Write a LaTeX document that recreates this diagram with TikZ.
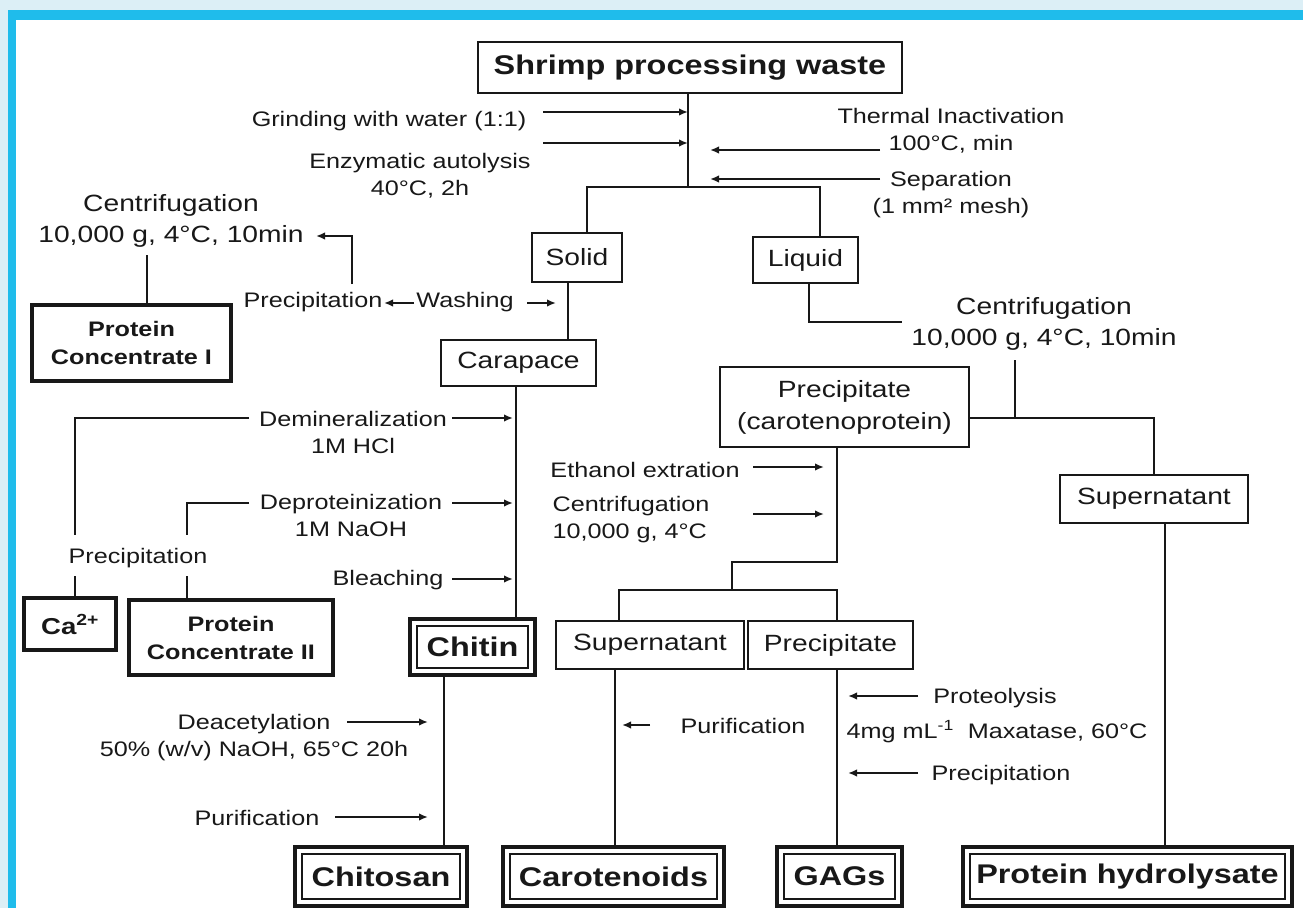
\documentclass[tikz,border=0pt]{standalone}
\usepackage{fontspec}
\setmainfont[FakeStretch=1.2]{Liberation Sans}
\usetikzlibrary{arrows.meta}
\definecolor{ink}{HTML}{181818}
\definecolor{bgl}{HTML}{DCEFF6}
\definecolor{fblue}{HTML}{1FBCEB}
\newcommand\lblf{\fontsize{21}{27}\selectfont}
\newcommand\cff{\fontsize{23.5}{31}\selectfont}
\newcommand\boxf{\fontsize{23.5}{32}\selectfont}
\newcommand\bigf{\fontsize{27}{32}\selectfont\bfseries}
\newcommand\pcf{\fontsize{21}{28}\selectfont\bfseries}
\begin{document}
\begin{tikzpicture}[x=1pt,y=-1pt,
 box/.style={draw=ink, line width=2.7pt, fill=white, inner sep=0pt, text=ink, font=\boxf, align=center},
 tbox/.style={box, line width=4.6pt, font=\pcf},
 dbox/.style={box, line width=4.2pt, font=\bigf, path picture={\draw[ink, line width=1.8pt] ([shift={(7pt,-7pt)}]path picture bounding box.north west) rectangle ([shift={(-7pt,7pt)}]path picture bounding box.south east);}},
 lab/.style={inner sep=0pt, text=ink, font=\lblf, align=center, anchor=base},
 conn/.style={draw=ink, line width=2.3pt},
 arr/.style={conn, -{Latex[length=9pt,width=7.5pt]}}
]
\useasboundingbox (0,0) rectangle (1303,908);
\fill[bgl] (0,0) rectangle (1303,908);
\fill[fblue] (8,10) rectangle (1303,908);
\fill[white] (16,20) rectangle (1303,908);

% boxes
\node[box, font=\bigf, line width=2.8pt, minimum width=424pt, minimum height=51pt] (shrimp) at (690,67.5) {Shrimp processing waste};
\node[box, minimum width=90pt, minimum height=49pt] (solid) at (577,257.5) {Solid};
\node[box, minimum width=105pt, minimum height=46pt] (liquid) at (805.5,260) {Liquid};
\node[tbox, minimum width=199pt, minimum height=76pt] (pc1) at (131.5,343) {Protein\\Concentrate I};
\node[box, minimum width=155pt, minimum height=46pt] (carapace) at (518.5,363) {Carapace};
\node[box, minimum width=249pt, minimum height=80pt] (prec) at (844.5,407) {Precipitate\\(carotenoprotein)};
\node[box, minimum width=188pt, minimum height=48pt] (supR) at (1154,499) {Supernatant};
\node[tbox, font=\fontsize{23}{28}\selectfont\bfseries, minimum width=92pt, minimum height=52pt] (ca) at (70,624) {Ca\textsuperscript{2+}};
\node[tbox, minimum width=204pt, minimum height=75pt] (pc2) at (231,637.5) {Protein\\Concentrate II};
\node[dbox, minimum width=125pt, minimum height=56pt] (chitin) at (472.5,647) {Chitin};
\node[box, minimum width=188pt, minimum height=48pt] (supM) at (650,645) {Supernatant};
\node[box, minimum width=165pt, minimum height=48pt] (precM) at (830.5,645) {Precipitate};
\node[dbox, minimum width=172pt, minimum height=59pt] (chitosan) at (381,876.5) {Chitosan};
\node[dbox, minimum width=221pt, minimum height=59pt] (carot) at (613.5,876.5) {Carotenoids};
\node[dbox, minimum width=125pt, minimum height=59pt] (gags) at (839.5,876.5) {GAGs};
\node[dbox, minimum width=329pt, minimum height=59pt] (hydro) at (1127.5,876.5) {Protein hydrolysate};

% labels (anchor=base: baseline of the last line)
\node[lab] (grind) at (389,126) {Grinding with water (1:1)};
\node[lab] (enz) at (420,195) {Enzymatic autolysis\\40°C, 2h};
\node[lab] (therm) at (951,150) {Thermal Inactivation\\100°C, min};
\node[lab] (sep) at (951,213) {Separation\\(1 mm² mesh)};
\node[lab, font=\cff] (cfR) at (1044,345) {Centrifugation\\10,000 g, 4°C, 10min};
\node[lab, font=\cff] (cfL) at (171,242) {Centrifugation\\10,000 g, 4°C, 10min};
\node[lab] (precL) at (313,307) {Precipitation};
\node[lab] (wash) at (465,307) {Washing};
\node[lab] (dem) at (353,453) {Demineralization\\1M HCl};
\node[lab] (dep) at (351,536) {Deproteinization\\1M NaOH};
\node[lab] (bleach) at (388,585) {Bleaching};
\node[lab] (precLL) at (138,563) {Precipitation};
\node[lab] (deac) at (254,756) {Deacetylation\\50\% (w/v) NaOH, 65°C 20h};
\node[lab] (purL) at (257,825) {Purification};
\node[lab] (eth) at (645,477) {Ethanol extration};
\node[lab, align=left] (cfM) at (631,538) {Centrifugation\\10,000 g, 4°C};
\node[lab] (purM) at (743,733) {Purification};
\node[lab] (proteo) at (995,703) {Proteolysis};
\node[lab] (maxa) at (997,738) {4mg mL\textsuperscript{-1}\ \ Maxatase, 60°C};
\node[lab] (precR) at (1001,780) {Precipitation};

% junction coordinates
\coordinate (j1) at (688,187);
\coordinate (jA) at (587,187);
\coordinate (jB) at (820,187);
\coordinate (a1s) at (543,112);
\coordinate (a2s) at (543,143);
\coordinate (a3s) at (880,150);
\coordinate (a3e) at (710,150);
\coordinate (a4s) at (880,179);
\coordinate (a4e) at (710,179);
\coordinate (lq) at (809,322);
\coordinate (lqe) at (902,322);
\coordinate (cq) at (1015,360);
\coordinate (jc) at (1015,418);
\coordinate (xhy) at (1165,0);
\coordinate (p1) at (837,562);
\coordinate (p2) at (732,562);
\coordinate (p3) at (732,590);
\coordinate (sL) at (619,590);
\coordinate (sR) at (837,590);
\coordinate (xc) at (615,0);
\coordinate (xs) at (568,0);
\coordinate (xk) at (516,0);
\coordinate (xt) at (444,0);
\coordinate (cl) at (147,255);
\coordinate (pu1) at (352,284);
\coordinate (pu2) at (352,236);
\coordinate (pu3) at (316,236);
\coordinate (d1) at (249,418);
\coordinate (d2) at (75,418);
\coordinate (d3) at (75,535);
\coordinate (d4) at (75,576);
\coordinate (e1) at (249,503);
\coordinate (e2) at (187,503);
\coordinate (e3) at (187,535);
\coordinate (e4) at (187,576);

% main connectors
\draw[conn] (shrimp.south -| j1) -- (j1);
\draw[conn] (solid.north -| jA) -- (jA) -- (jB) -- (liquid.north -| jB);
\draw[arr] (a1s) -- (a1s -| j1);
\draw[arr] (a2s) -- (a2s -| j1);
\draw[arr] (a3s) -- (a3e);
\draw[arr] (a4s) -- (a4e);
\draw[conn] (liquid.south -| lq) -- (lq) -- (lqe);
\draw[conn] (cq) -- (jc);
\draw[conn] (prec.east |- jc) -- (supR.north |- jc) -- (supR.north);
\draw[conn] (supR.south -| xhy) -- (hydro.north -| xhy);
\draw[conn] (prec.south -| p1) -- (p1) -- (p2) -- (p3);
\draw[conn] (supM.north -| sL) -- (sL) -- (sR) -- (precM.north -| sR);
\draw[arr] (753,467) -- (824,467);
\draw[arr] (753,514) -- (824,514);
\draw[conn] (supM.south -| xc) -- (carot.north -| xc);
\draw[arr] (650,725) -- (622,725);
\draw[conn] (precM.south -| sR) -- (gags.north -| sR);
\draw[arr] (918,696) -- (848,696);
\draw[arr] (918,773) -- (848,773);

% left part
\draw[conn] (solid.south -| xs) -- (carapace.north -| xs);
\draw[arr] (527,303) -- (556,303);
\draw[arr] (414,303) -- (384,303);
\draw[arr] (pu1) -- (pu2) -- (pu3);
\draw[conn] (cl) -- (pc1.north -| cl);
\draw[conn] (carapace.south -| xk) -- (chitin.north -| xk);
\draw[arr] (452,418) -- (513,418);
\draw[arr] (452,503) -- (513,503);
\draw[arr] (452,579) -- (513,579);
\draw[conn] (d1) -- (d2) -- (d3);
\draw[conn] (d4) -- (ca.north -| d4);
\draw[conn] (e1) -- (e2) -- (e3);
\draw[conn] (e4) -- (pc2.north -| e4);
\draw[conn] (chitin.south -| xt) -- (chitosan.north -| xt);
\draw[arr] (347,722) -- (428,722);
\draw[arr] (335,817) -- (428,817);
\end{tikzpicture}
\end{document}
